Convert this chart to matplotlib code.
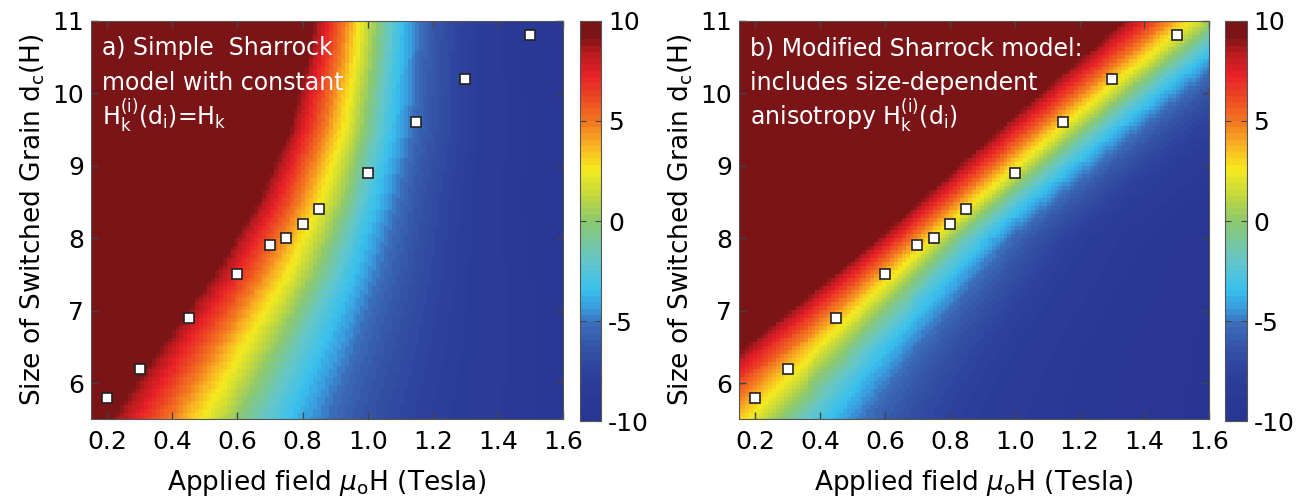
import numpy as np
import matplotlib
matplotlib.use("Agg")
import matplotlib.pyplot as plt
from matplotlib.colors import LinearSegmentedColormap

plt.rcParams['font.family'] = ['DejaVu Sans']
plt.rcParams['mathtext.fontset'] = 'dejavusans'
plt.rcParams['axes.unicode_minus'] = False

# switched grain data (same points on both panels)
field_pts = [0.2, 0.3, 0.45, 0.6, 0.7, 0.75, 0.8, 0.85, 1.0, 1.15, 1.3, 1.5]
grain_pts = [5.8, 6.2, 6.9, 7.5, 7.9, 8.0, 8.2, 8.4, 8.9, 9.6, 10.2, 10.8]

# panel a: zero level of the map read at a few grain sizes
a_y = [5.5, 6.5, 7.5, 8.5, 9.5, 10.5, 11.0]
a_zero = [0.60, 0.72, 0.84, 0.93, 0.99, 1.02, 1.03]
a_pos_w = [0.42, 0.39, 0.34, 0.29, 0.25, 0.22, 0.21]
a_neg_w = [0.39, 0.34, 0.28, 0.23, 0.21, 0.19, 0.185]

# panel b
b_y = [5.5, 6.5, 8.0, 9.5, 11.0]
b_zero = [0.28, 0.48, 0.81, 1.21, 1.62]
b_pos_w = [0.40, 0.34, 0.25, 0.28, 0.31]
b_neg_w = [0.36, 0.31, 0.25, 0.25, 0.25]

x_ticks = [0.2, 0.4, 0.6, 0.8, 1.0, 1.2, 1.4, 1.6]
y_ticks = [6, 7, 8, 9, 10, 11]
cbar_ticks = [-10, -5, 0, 5, 10]

cmap_stops = [
    (-10, "#283593"), (-8, "#2c3e98"), (-6.5, "#3452a6"), (-5.3, "#3a6ab8"),
    (-4.3, "#38a0de"), (-3.5, "#38c0ee"), (-2, "#64c6c8"), (0, "#8cc86e"),
    (1.3, "#c4d83c"), (2.6, "#f5eb1e"), (3.8, "#f8b423"), (5, "#f37821"),
    (6.3, "#ec4623"), (7.4, "#e82028"), (8.6, "#b41a1e"), (9.3, "#7a1416"),
    (10, "#7a1416"),
]
cmap = LinearSegmentedColormap.from_list(
    "sharrock", [((v + 10) / 20, c) for v, c in cmap_stops], N=64)


def make_map(ys, zero, pos_w, neg_w):
    xg = np.linspace(0.15, 1.6, 121)
    yg = np.linspace(5.5, 11, 101)
    X, Y = np.meshgrid(xg, yg)
    x0 = np.interp(Y, ys, zero)
    pw = np.interp(Y, ys, pos_w)
    nw = np.interp(Y, ys, neg_w)
    d = x0 - X
    Z = np.where(d > 0, np.minimum(10, 10 * d / pw),
                 -10 * (1 - np.exp(d / nw)))
    return xg, yg, Z


def draw_panel(ax, cax, ys, zero, pos_w, neg_w, lines):
    xg, yg, Z = make_map(ys, zero, pos_w, neg_w)
    mesh = ax.pcolormesh(xg, yg, Z, cmap=cmap, vmin=-10, vmax=10,
                         shading='nearest', rasterized=True)
    ax.plot(field_pts, grain_pts, 's', ms=7.5, mfc='white', mec='#222222',
            mew=1.2)
    ax.set_xlim(0.15, 1.6)
    ax.set_ylim(5.5, 11)
    ax.set_xticks(x_ticks)
    ax.set_xticklabels(["%.1f" % t for t in x_ticks])
    ax.set_yticks(y_ticks)
    ax.tick_params(direction='in', top=True, right=True, length=5,
                   labelsize=18, width=1, color='#444444')
    ax.tick_params(axis='x', pad=8)
    ax.tick_params(axis='y', pad=5)
    for s in ax.spines.values():
        s.set_color('#555555')
    ax.set_xlabel(r"Applied field $\mu_\mathregular{o}$H (Tesla)",
                  fontsize=19, labelpad=10)
    ax.set_ylabel(r"Size of Switched Grain $\mathregular{d_c}$(H)",
                  fontsize=19, labelpad=4)
    for txt, yy in zip(lines, [0.913, 0.826, 0.74]):
        ax.text(0.023, yy, txt, transform=ax.transAxes, color='white',
                fontsize=17, va='baseline', ha='left')
    cb = plt.colorbar(mesh, cax=cax, ticks=cbar_ticks)
    cb.ax.tick_params(direction='in', left=True, right=True, length=4,
                      labelsize=18, pad=5, color='#444444')
    cb.outline.set_edgecolor('#555555')


fig = plt.figure(figsize=(13.05, 5.04), dpi=100)
ax_a = fig.add_axes([0.0697, 0.168, 0.3617, 0.791])
cax_a = fig.add_axes([0.4444, 0.164, 0.0161, 0.795])
ax_b = fig.add_axes([0.5663, 0.168, 0.3604, 0.791])
cax_b = fig.add_axes([0.9387, 0.164, 0.0166, 0.795])

draw_panel(ax_a, cax_a, a_y, a_zero, a_pos_w, a_neg_w,
           ["a) Simple  Sharrock", "model with constant",
            r"$\mathregular{H_k^{(i)}(d_i)}$=H$_\mathregular{k}$"])
draw_panel(ax_b, cax_b, b_y, b_zero, b_pos_w, b_neg_w,
           ["b) Modified Sharrock model:", "includes size-dependent",
            r"anisotropy $\mathregular{H_k^{(i)}(d_i)}$"])

fig.savefig("out.png", dpi=100)
